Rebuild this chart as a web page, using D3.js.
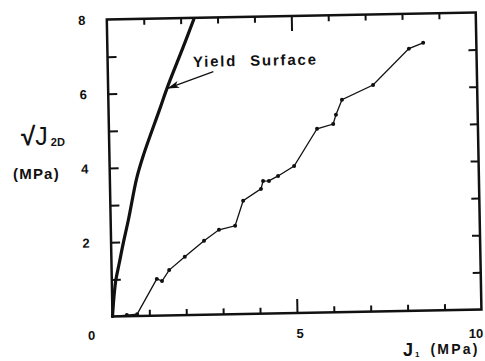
<!DOCTYPE html>
<html lang="en">
<meta charset="utf-8">
<head>
    <script src="https://d3js.org/d3.v7.min.js"></script>
    <style>
        body { margin: 0; background: #fff; }
        text { font-family: "Liberation Sans", Arial, sans-serif; fill: #111; }
    </style>
</head>
<body>
<script>
// yield surface (the thick curve), J1 vs sqrt(J2D) in MPa
const yieldJ1      = [0, 0.05, 0.11, 0.21, 0.33, 0.48, 0.73, 0.93, 1.38, 1.60, 2.06, 2.36];
const yieldSqrtJ2D = [0, 0.53, 0.98, 1.43, 1.97, 2.59, 3.72, 4.35, 5.54, 6.13, 7.23, 7.97];

// measured stress path (thin line with dots)
const pathJ1      = [0, 0.39, 0.67, 1.22, 1.36, 1.56, 1.99, 2.52, 2.93, 3.37, 3.60, 4.09, 4.15, 4.31, 4.56, 5.00, 5.64, 6.08, 6.16, 6.33, 7.18, 8.17, 8.56];
const pathSqrtJ2D = [0, 0.03, 0.05, 0.99, 0.93, 1.22, 1.57, 1.99, 2.28, 2.38, 3.05, 3.36, 3.57, 3.57, 3.70, 3.96, 4.95, 5.07, 5.32, 5.72, 6.10, 7.06, 7.21];

// ticks and labels
const xTicks = [1, 2, 3, 4, 5, 6, 7, 8, 9];
const yTicks = [1, 2, 3, 4, 5, 6, 7];
const xTickLabels = [5, 10];
const yTickLabels = [2, 4, 6, 8];

// annotation (data units)
const arrowFrom = [2.86, 6.54];
const arrowTo = [1.63, 6.12];
const noteAt = [2.31, 6.68];

const width = 485, height = 361;
const plotW = 369, plotH = 297;
const originX = 112.5, originY = 316.5;
const tilt = -1.1; // the scanned figure sits a little crooked

const svg = d3.select("body").append("svg")
    .attr("width", width)
    .attr("height", height);
svg.append("rect").attr("width", width).attr("height", height).attr("fill", "#fff");

const x = d3.scaleLinear().domain([0, 10]).range([0, plotW]);
const y = d3.scaleLinear().domain([0, 8]).range([0, -plotH]);

const g = svg.append("g")
    .attr("transform", "translate(" + originX + "," + originY + ") rotate(" + tilt + ")");

// box
g.append("rect")
    .attr("x", x(0)).attr("y", y(8))
    .attr("width", x(10) - x(0)).attr("height", y(0) - y(8))
    .attr("fill", "none").attr("stroke", "#111").attr("stroke-width", 2.5);

// inward ticks on all sides
function ticks(axis, tr) {
    const a = g.append("g").attr("transform", tr).call(axis);
    a.select(".domain").remove();
    a.selectAll("text").remove();
    a.selectAll("line").attr("stroke", "#111").attr("stroke-width", 2);
    return a.selectAll("line");
}
ticks(d3.axisTop(x).tickValues(xTicks), "translate(0," + y(0) + ")")
    .attr("y2", d => d === 5 ? -14 : -6);
ticks(d3.axisBottom(x).tickValues(xTicks), "translate(0," + y(8) + ")")
    .attr("y2", d => d === 5 ? 15 : 6);
ticks(d3.axisRight(y).tickValues(yTicks), "translate(" + x(0) + ",0)")
    .attr("x2", 9);
ticks(d3.axisLeft(y).tickValues(yTicks), "translate(" + x(10) + ",0)")
    .attr("x2", -8);

// y tick labels follow the tilted axis
g.selectAll(".ylab").data(yTickLabels).enter().append("text")
    .attr("x", x(0) - 25)
    .attr("y", d => y(d) + 5)
    .attr("text-anchor", "middle")
    .style("font-size", "13px").style("font-weight", "bold")
    .text(d => d);

// yield surface
const idxY = d3.range(yieldJ1.length);
g.append("path")
    .datum(idxY)
    .attr("fill", "none").attr("stroke", "#111").attr("stroke-width", 3.2)
    .attr("stroke-linecap", "round")
    .attr("d", d3.line()
        .x(i => x(yieldJ1[i]))
        .y(i => y(yieldSqrtJ2D[i]))
        .curve(d3.curveCatmullRom.alpha(0.5)));

// stress path
const idxP = d3.range(pathJ1.length);
g.append("path")
    .datum(idxP)
    .attr("fill", "none").attr("stroke", "#111").attr("stroke-width", 1.3)
    .attr("d", d3.line()
        .x(i => x(pathJ1[i]))
        .y(i => y(pathSqrtJ2D[i])));
g.selectAll(".pt").data(idxP.slice(1)).enter().append("circle")
    .attr("cx", i => x(pathJ1[i]))
    .attr("cy", i => y(pathSqrtJ2D[i]))
    .attr("r", 2)
    .attr("fill", "#111");

// annotation
svg.append("defs").append("marker")
    .attr("id", "head")
    .attr("viewBox", "0 0 12 8")
    .attr("refX", 11).attr("refY", 4)
    .attr("markerWidth", 12).attr("markerHeight", 8)
    .attr("markerUnits", "userSpaceOnUse")
    .attr("orient", "auto")
    .append("path")
    .attr("d", "M0,0.5L12,4L0,7.5L3,4Z")
    .attr("fill", "#111");
g.append("line")
    .attr("x1", x(arrowFrom[0])).attr("y1", y(arrowFrom[1]))
    .attr("x2", x(arrowTo[0])).attr("y2", y(arrowTo[1]))
    .attr("stroke", "#111").attr("stroke-width", 1.3)
    .attr("marker-end", "url(#head)");
g.append("text")
    .attr("x", x(noteAt[0])).attr("y", y(noteAt[1]))
    .style("font-size", "15px").style("font-weight", "bold")
    .style("letter-spacing", "1.8px").style("word-spacing", "7px")
    .text("Yield Surface");

// x tick labels (printed level, below the box)
const lab = svg.append("g").attr("transform", "translate(" + originX + "," + originY + ")");
lab.append("text")
    .attr("x", x(0) - 21).attr("y", 23.5)
    .attr("text-anchor", "middle")
    .style("font-size", "13px").style("font-weight", "bold")
    .text("0");
lab.selectAll(".xlab").data(xTickLabels).enter().append("text")
    .attr("x", d => Math.min(x(d) + 3, width - originX - 9))
    .attr("y", 21)
    .attr("text-anchor", "middle")
    .style("font-size", "13px").style("font-weight", "bold")
    .text(d => d);

// axis titles
const yt = svg.append("text").attr("x", 21).attr("y", 145);
yt.append("tspan").style("font-size", "26px").style("font-weight", "bold").text("\u221A");
yt.append("tspan").style("font-size", "25px").text("J");
yt.append("tspan").style("font-size", "11px").style("font-weight", "bold")
    .attr("dx", 3).attr("dy", 1).text("2D");
svg.append("text")
    .attr("x", 13).attr("y", 179)
    .style("font-size", "15px").style("font-weight", "bold").style("letter-spacing", "1.2px")
    .text("(MPa)");

const xt = svg.append("text").attr("x", 403).attr("y", 356);
xt.append("tspan").style("font-size", "18px").style("font-weight", "bold").text("J");
xt.append("tspan").style("font-size", "8px").style("font-weight", "bold")
    .attr("dx", 2).attr("dy", 1).text("1");
xt.append("tspan").style("font-size", "14px").style("font-weight", "bold")
    .style("letter-spacing", "2.2px")
    .attr("dx", 11).attr("dy", -3).text("(MPa)");
</script>
</body>
</html>
